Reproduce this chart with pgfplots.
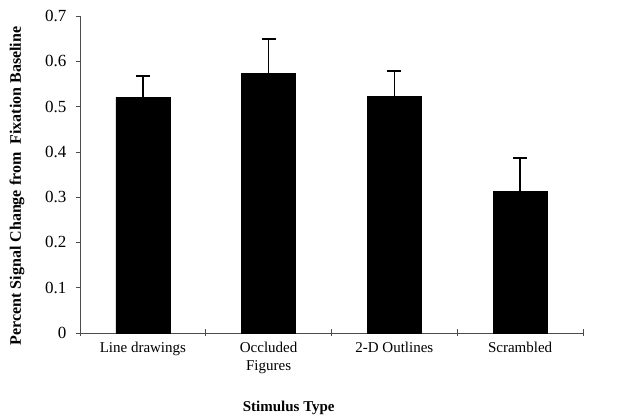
\documentclass[border=0pt]{standalone}
\usepackage{pgfplots}
\pgfplotsset{compat=1.18}
\usepackage{fontspec}
\setmainfont{Liberation Serif}
\begin{document}
\begin{tikzpicture}
\begin{axis}[
  scale only axis,
  width=503pt, height=317pt,
  xmin=-0.5, xmax=3.5, ymin=0, ymax=0.7,
  axis x line=bottom, axis y line=left,
  axis line style={-, line width=0.6pt, black!70},
  ytick={0,0.1,0.2,0.3,0.4,0.5,0.6,0.7},
  yticklabel style={font=\fontsize{17}{20}\selectfont, /pgf/number format/assume math mode=true, /pgf/number format/fixed, xshift=-6pt},
  ytick align=outside, major tick length=4pt,
  ytick style={black!70, line width=0.6pt},
  xtick={0,1,2,3},
  xticklabels={Line drawings, Occluded\\Figures, 2-D Outlines, Scrambled},
  xticklabel style={font=\fontsize{15}{18}\selectfont, align=center, anchor=north, yshift=-4pt},
  xtick style={draw=none},
  extra x ticks={-0.5,0.5,1.5,2.5,3.5},
  extra x tick labels={},
  extra x tick style={xtick style={draw=black!70, line width=0.6pt}, tick align=center, major tick length=7pt},
  xlabel={\textbf{Stimulus Type}},
  xlabel style={font=\fontsize{15}{18}\selectfont, at={(axis description cs:0.415,0)}, anchor=center, yshift=-75pt},
  ylabel={\textbf{Percent Signal Change from \ Fixation Baseline}},
  ylabel style={font=\fontsize{16}{19}\selectfont, at={(axis description cs:-0.125,0.464)}, anchor=center},
  clip=false,
]
\addplot[ybar, bar width=54pt, fill=black, draw=black,
  error bars/.cd, y dir=plus, y explicit,
  error bar style={line width=1.5pt, black},
  error mark options={rotate=90, mark size=7pt, line width=1.5pt, black}]
  coordinates {
  (0,0.521) +- (0,0.047)
  (1,0.574) +- (0,0.075)
  (2,0.523) +- (0,0.055)
  (3,0.313) +- (0,0.073)
  };
\end{axis}
\path (current axis.south west) ++(-80pt,-83pt) rectangle ++(634pt,416pt);
\end{tikzpicture}
\end{document}
